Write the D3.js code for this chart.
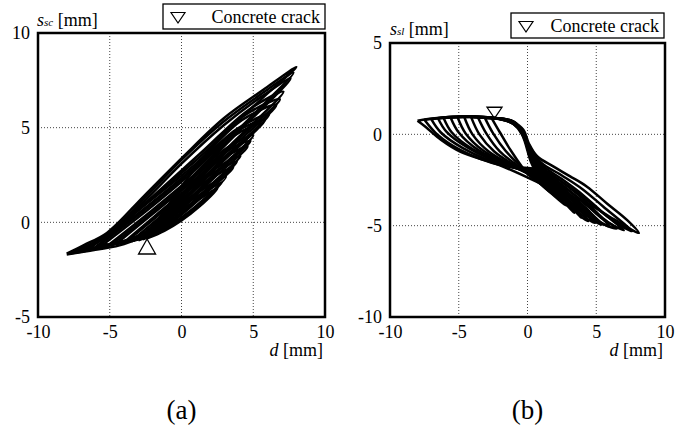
<!DOCTYPE html>
<html>
<head>
<meta charset="utf-8">
<script src="https://cdn.jsdelivr.net/npm/d3@7"></script>
<style>
    body { margin: 0; background: #fff; }
    svg { display: block; }
    svg text { font-family: "Liberation Serif", "DejaVu Serif", "Times New Roman", Times, serif; fill: #000; }
</style>
</head>
<body>
<svg id="chart" width="677" height="432"></svg>
<script>
"use strict";

const SERIF = "'Liberation Serif', 'DejaVu Serif', 'Times New Roman', Times, serif";

// shared axis values
const xTicks = [-10, -5, 0, 5, 10];
const yTicksA = [-5, 0, 5, 10];
const yTicksB = [-10, -5, 0, 5];
const legendLabel = "Concrete crack";

// point where the concrete cracked, per panel [d, s]
const crackA = [-2.4, -0.88];
const crackB = [-2.4, 0.88];

// (a) s_sc vs d, one list per loading cycle
const cyclesA = [
    [[-2.4,-0.85],[-1.2,-0.45],[0,0.1],[1.2,0.8],[2.5,1.8],[1.4,1.3],[0.2,0.75],[-1.2,0.0],[-2.4,-0.85]],
    [[-2.7,-0.9],[-1.4,-0.45],[0,0.2],[1.4,1.05],[2.8,2.1],[1.6,1.6],[0.2,0.95],[-1.3,0.05],[-2.7,-0.9]],
    [[-3.0,-0.95],[-1.6,-0.55],[0,0.25],[1.6,1.25],[3.1,2.4],[1.8,1.9],[0.2,1.1],[-1.5,0.05],[-3.0,-0.95]],
    [[-3.5,-1.0],[-1.8,-0.6],[0,0.4],[1.8,1.6],[3.6,2.9],[2.2,2.4],[0.3,1.4],[-1.7,0.15],[-3.5,-1.0]],
    [[-3.8,-1.0],[-1.9,-0.55],[0,0.5],[1.9,1.8],[3.85,3.2],[2.4,2.7],[0.35,1.6],[-1.8,0.25],[-3.8,-1.0]],
    [[-4.0,-1.05],[-2.0,-0.6],[0,0.55],[2.0,1.95],[4.1,3.5],[2.6,2.95],[0.4,1.75],[-1.9,0.3],[-4.0,-1.05]],
    [[-4.5,-1.1],[-2.2,-0.65],[0,0.7],[2.2,2.3],[4.6,4.0],[2.9,3.4],[0.5,2.0],[-2.0,0.45],[-4.5,-1.1]],
    [[-4.8,-1.15],[-2.3,-0.65],[0,0.8],[2.3,2.5],[4.8,4.3],[3.0,3.7],[0.55,2.15],[-2.05,0.5],[-4.8,-1.15]],
    [[-5.0,-1.15],[-2.4,-0.7],[0,0.85],[2.4,2.65],[5.0,4.6],[3.2,3.95],[0.6,2.3],[-2.1,0.6],[-5.0,-1.15]],
    [[-5.5,-1.2],[-2.6,-0.72],[0,1.0],[2.6,3.0],[5.5,5.2],[3.5,4.5],[0.7,2.6],[-2.2,0.75],[-5.5,-1.2]],
    [[-5.8,-1.25],[-2.7,-0.7],[0,1.1],[2.7,3.15],[5.8,5.4],[3.7,4.75],[0.75,2.75],[-2.25,0.85],[-5.8,-1.25]],
    [[-6.0,-1.3],[-2.8,-0.74],[0,1.15],[2.8,3.3],[6.1,5.7],[3.9,4.95],[0.8,2.85],[-2.3,0.9],[-6.0,-1.3]],
    [[-6.5,-1.4],[-4.0,-1.0],[-2.4,-0.6],[0,1.3],[3.0,3.6],[6.6,6.2],[4.2,5.4],[1.0,3.1],[-2.4,1.0],[-5.0,-0.6],[-6.5,-1.4]],
    [[-6.8,-1.45],[-4.2,-1.05],[-2.4,-0.55],[0,1.4],[3.1,3.8],[6.85,6.5],[4.5,5.7],[1.2,3.4],[-2.4,1.05],[-5.0,-0.62],[-6.8,-1.45]],
    [[-7.0,-1.5],[-4.5,-1.1],[-2.4,-0.5],[0,1.5],[3.3,4.0],[7.1,6.9],[4.7,5.95],[1.4,3.7],[-2.4,1.1],[-5.1,-0.65],[-7.0,-1.5]],
    [[-7.5,-1.6],[-5.0,-1.2],[-2.5,-0.5],[0,1.7],[3.6,4.5],[7.6,7.6],[5.5,6.6],[2.9,5.1],[0,3.1],[-2.6,1.1],[-5.2,-0.7],[-7.5,-1.6]],
    [[-7.8,-1.65],[-5.5,-1.3],[-2.5,-0.55],[0,1.8],[3.7,4.7],[7.8,7.9],[5.6,6.8],[2.9,5.3],[0,3.3],[-2.6,1.25],[-5.2,-0.65],[-7.8,-1.65]],
    [[-8.0,-1.7],[-6.0,-1.45],[-4.0,-1.15],[-2.4,-0.55],[0,1.9],[2.9,4.6],[5.7,6.6],[8.0,8.2],[5.7,7.0],[2.95,5.5],[0.16,3.5],[-2.6,1.4],[-5.2,-0.56],[-6.8,-1.2],[-8.0,-1.65]]
];

// (b) s_sl vs d, one list per loading cycle
const cyclesB = [
    [[-2.6,0.88],[-1.8,0.8],[-1.0,0.55],[-0.4,0.0],[0.3,-1.6],[1.0,-2.55],[1.7,-3.05],[2.3,-3.5],[1.7,-3.2],[1.0,-2.75],[0,-2.15],[-1.2,-0.9],[-2.0,0.1],[-2.6,0.88]],
    [[-3.1,0.9],[-2.2,0.85],[-1.2,0.65],[-0.4,0.1],[0.3,-1.5],[1.0,-2.45],[1.9,-3.1],[2.8,-3.9],[2.0,-3.4],[1.0,-2.75],[0,-2.1],[-1.6,-0.9],[-2.5,0.05],[-3.1,0.9]],
    [[-3.6,0.92],[-2.6,0.9],[-1.4,0.72],[-0.5,0.2],[0.3,-1.4],[1.0,-2.35],[2.5,-3.35],[3.4,-4.3],[2.5,-3.6],[1.0,-2.72],[-0.2,-2.0],[-2.0,-0.95],[-3.0,0.05],[-3.6,0.92]],
    [[-4.1,0.94],[-3.0,0.92],[-1.6,0.78],[-0.5,0.3],[0.3,-1.3],[1.0,-2.25],[2.5,-3.2],[3.9,-4.55],[2.7,-3.55],[1.0,-2.65],[-0.4,-1.95],[-2.4,-0.95],[-3.5,0.0],[-4.1,0.94]],
    [[-4.6,0.95],[-3.4,0.95],[-1.8,0.8],[-0.6,0.4],[0.25,-1.2],[1.0,-2.15],[2.5,-3.1],[4.0,-4.3],[4.4,-4.75],[3.8,-4.45],[2.5,-3.45],[1.0,-2.55],[-0.6,-1.9],[-2.8,-0.95],[-4.0,0.0],[-4.6,0.95]],
    [[-5.1,0.96],[-3.8,0.97],[-2.0,0.85],[-0.7,0.5],[0.25,-1.1],[1.0,-2.05],[2.5,-3.0],[4.0,-4.15],[4.9,-4.85],[4.0,-4.45],[2.5,-3.35],[1.0,-2.45],[-0.8,-1.85],[-3.2,-0.9],[-4.5,0.05],[-5.1,0.96]],
    [[-5.6,0.94],[-4.2,0.96],[-2.2,0.88],[-0.8,0.6],[0.2,-1.0],[1.0,-1.95],[2.5,-2.9],[4.0,-3.95],[5.4,-4.95],[4.0,-4.3],[2.5,-3.25],[1.0,-2.35],[-1.0,-1.8],[-3.6,-0.85],[-5.0,0.1],[-5.6,0.94]],
    [[-6.1,0.9],[-4.6,0.95],[-2.4,0.9],[-0.9,0.62],[0.2,-0.9],[1.0,-1.85],[2.5,-2.75],[4.0,-3.7],[5.2,-4.45],[6.0,-5.05],[5.0,-4.7],[4.0,-4.05],[2.5,-3.1],[1.0,-2.25],[-1.2,-1.75],[-4.0,-0.8],[-5.5,0.1],[-6.1,0.9]],
    [[-6.5,0.87],[-5.0,0.95],[-2.6,0.9],[-1.0,0.65],[0.15,-0.8],[1.0,-1.75],[2.5,-2.6],[4.0,-3.5],[5.5,-4.6],[6.5,-5.15],[5.5,-4.9],[4.0,-3.85],[2.5,-2.95],[1.0,-2.15],[-1.4,-1.75],[-4.4,-0.7],[-5.9,0.15],[-6.5,0.87]],
    [[-7.0,0.83],[-5.4,0.96],[-2.8,0.9],[-1.0,0.68],[0.15,-0.7],[1.0,-1.65],[2.5,-2.45],[4.0,-3.3],[5.5,-4.3],[7.0,-5.25],[5.5,-4.65],[4.0,-3.65],[2.5,-2.8],[1.0,-2.05],[-1.7,-1.7],[-4.7,-0.75],[-6.3,0.1],[-7.0,0.83]],
    [[-7.5,0.8],[-5.6,0.95],[-3.0,0.92],[-1.0,0.68],[0.1,-0.6],[1.0,-1.55],[2.5,-2.25],[4.0,-3.0],[5.5,-3.95],[7.6,-5.3],[6.0,-4.6],[4.0,-3.4],[2.5,-2.6],[1.0,-1.95],[-1.9,-1.7],[-4.9,-0.85],[-6.5,-0.05],[-7.5,0.8]],
    [[-8.0,0.74],[-7.1,0.85],[-5.4,0.96],[-3.5,0.95],[-2.0,0.85],[-1.0,0.66],[-0.3,0.25],[0.1,-0.5],[0.7,-1.2],[1.9,-1.77],[3.1,-2.3],[4.3,-2.85],[5.8,-3.8],[7.25,-4.7],[8.1,-5.4],[6.3,-4.65],[4.3,-3.75],[2.5,-3.2],[1.4,-2.85],[-2.0,-1.7],[-4.9,-0.95],[-6.3,-0.3],[-7.4,0.4],[-8.0,0.74]]
];

const svg = d3.select("#chart").attr("font-family", SERIF);

/**
 * Draw one hysteresis panel: grid, loops, crack marker, frame, labels.
 * @param {Object} p panel layout and data
 */
function drawPanel(p) {
    const x = d3.scaleLinear().domain([-10, 10]).range([p.left, p.right]);
    const y = d3.scaleLinear().domain(p.yDomain).range([p.bottom, p.top]);
    const g = svg.append("g");

    // dotted grid on the inner ticks
    const gx = xTicks.filter(t => t > -10 && t < 10);
    const gy = p.yTicks.filter(t => t > p.yDomain[0] && t < p.yDomain[1]);
    g.selectAll(".vgrid").data(gx).join("line")
        .attr("x1", d => x(d)).attr("x2", d => x(d))
        .attr("y1", p.top).attr("y2", p.bottom)
        .attr("stroke", "#444").attr("stroke-width", 1)
        .attr("stroke-dasharray", "1,2");
    g.selectAll(".hgrid").data(gy).join("line")
        .attr("x1", p.left).attr("x2", p.right)
        .attr("y1", d => y(d)).attr("y2", d => y(d))
        .attr("stroke", "#444").attr("stroke-width", 1)
        .attr("stroke-dasharray", "1,2");

    // crack marker sits under the curves
    const [cx, cy] = [x(p.crack[0]), y(p.crack[1])];
    const tri = p.crackUp
        ? `M${cx},${cy} L${cx - 8.5},${cy + 15} L${cx + 8.5},${cy + 15} Z`
        : `M${cx},${cy} L${cx - 7.5},${cy - 11} L${cx + 7.5},${cy - 11} Z`;
    g.append("path").attr("d", tri)
        .attr("fill", "#fff").attr("stroke", "#000").attr("stroke-width", 1.3);

    const line = d3.line()
        .x(d => x(d[0]))
        .y(d => y(d[1]))
        .curve(d3.curveCatmullRom.alpha(0.5));
    g.selectAll(".cycle").data(p.cycles).join("path")
        .attr("d", line)
        .attr("fill", "none")
        .attr("stroke", "#000")
        .attr("stroke-width", 2.5)
        .attr("stroke-linejoin", "round");

    // frame
    g.append("rect")
        .attr("x", p.left).attr("y", p.top)
        .attr("width", p.right - p.left).attr("height", p.bottom - p.top)
        .attr("fill", "none").attr("stroke", "#000").attr("stroke-width", 2.5);

    // tick labels, plain hyphen for negatives as in the source
    g.append("g")
        .attr("transform", `translate(0,${p.bottom + 5})`)
        .call(d3.axisBottom(x).tickValues(xTicks).tickSize(0).tickFormat(d => String(d)))
        .call(a => a.select(".domain").remove())
        .call(a => a.attr("font-family", SERIF).attr("font-size", 18))
        .call(a => a.selectAll("text").attr("fill", "#000"));
    g.append("g")
        .attr("transform", `translate(${p.left - 5},0)`)
        .call(d3.axisLeft(y).tickValues(p.yTicks).tickSize(0).tickFormat(d => String(d)))
        .call(a => a.select(".domain").remove())
        .call(a => a.attr("font-family", SERIF).attr("font-size", 18))
        .call(a => a.selectAll("text").attr("fill", "#000"));

    // axis titles
    const yt = g.append("text")
        .attr("x", p.yTitle[0]).attr("y", p.yTitle[1]).attr("font-size", 18);
    yt.append("tspan").attr("font-style", "italic").text("s");
    yt.append("tspan").attr("font-style", "italic").attr("font-size", 11).text(p.ySub);
    yt.append("tspan").text(" [mm]");

    const xt = g.append("text")
        .attr("x", p.right - 2).attr("y", p.bottom + 39)
        .attr("text-anchor", "end").attr("font-size", 18);
    xt.append("tspan").attr("font-style", "italic").text("d");
    xt.append("tspan").text(" [mm]");

    // legend
    const lg = p.legend;
    g.append("rect")
        .attr("x", lg[0]).attr("y", lg[1]).attr("width", lg[2]).attr("height", lg[3])
        .attr("fill", "#fff").attr("stroke", "#000").attr("stroke-width", 1.3);
    const tx = lg[0] + 15, ty = lg[1] + 19;
    g.append("path")
        .attr("d", `M${tx},${ty} L${tx - 7},${ty - 10.5} L${tx + 7},${ty - 10.5} Z`)
        .attr("fill", "none").attr("stroke", "#000").attr("stroke-width", 1.2);
    g.append("text")
        .attr("x", lg[0] + lg[2] - 5).attr("y", lg[1] + 18.5)
        .attr("text-anchor", "end").attr("font-size", 18)
        .text(legendLabel);

    // panel caption
    g.append("text")
        .attr("x", x(0)).attr("y", 419)
        .attr("text-anchor", "middle").attr("font-size", 27)
        .text(p.caption);
}

drawPanel({
    left: 38, right: 325, top: 33, bottom: 317,
    yDomain: [-5, 10], yTicks: yTicksA,
    cycles: cyclesA, crack: crackA, crackUp: true,
    ySub: "sc", yTitle: [37, 26],
    legend: [163, 4, 162, 25],
    caption: "(a)"
});

drawPanel({
    left: 390, right: 665, top: 43, bottom: 317,
    yDomain: [-10, 5], yTicks: yTicksB,
    cycles: cyclesB, crack: crackB, crackUp: false,
    ySub: "sl", yTitle: [390, 35],
    legend: [511, 13, 153, 25],
    caption: "(b)"
});
</script>
</body>
</html>
